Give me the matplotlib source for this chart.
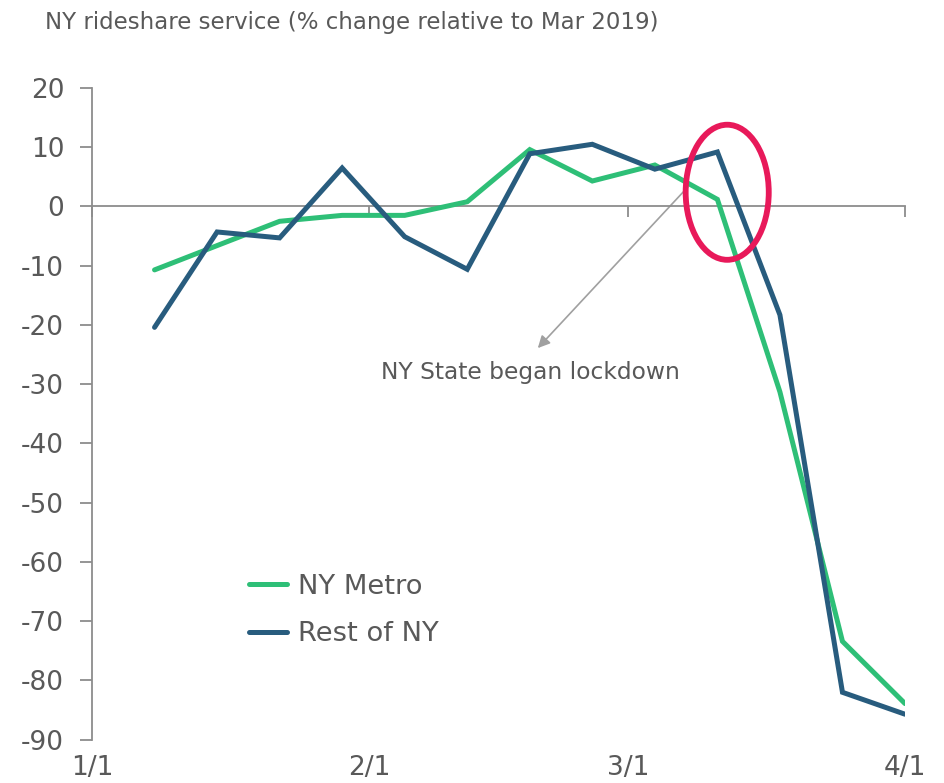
import numpy as np
import matplotlib
matplotlib.use("Agg")
import matplotlib.pyplot as plt
import matplotlib.dates as mdates
from matplotlib.patches import Ellipse
import matplotlib.transforms as mtransforms

# ---- data ----
dates = np.arange(np.datetime64("2020-01-08"), np.datetime64("2020-04-02"), np.timedelta64(7, "D"))
ny_metro = [-10.7, -6.6, -2.5, -1.5, -1.5, 0.8, 9.6, 4.3, 7.0, 1.2, -31.3, -73.4, -83.9]
rest_ny = [-20.4, -4.3, -5.3, 6.5, -5.1, -10.6, 8.9, 10.5, 6.3, 9.2, -18.3, -82.0, -85.7]
series_labels = ["NY Metro", "Rest of NY"]
xtick_dates = ["2020-01-01", "2020-02-01", "2020-03-01", "2020-04-01"]
xtick_labels = ["1/1", "2/1", "3/1", "4/1"]
yticks = [20, 10, 0, -10, -20, -30, -40, -50, -60, -70, -80, -90]
title = "NY rideshare service (% change relative to Mar 2019)"
note = "NY State began lockdown"

GREEN = "#2EBF77"
BLUE = "#285C7E"
RED = "#E8195A"
TXT = "#595959"
AX = "#8C8C8C"

plt.rcParams["font.family"] = ["DejaVu Sans"]

fig = plt.figure(figsize=(9.44, 7.83), dpi=100)
ax = fig.add_axes([92 / 944, 1 - 739.7 / 783, (905 - 92) / 944, (739.7 - 88) / 783])

x = dates.astype("datetime64[D]").astype(object)
ax.plot(x, ny_metro, color=GREEN, lw=3.6, solid_capstyle="round", solid_joinstyle="miter", label=series_labels[0], zorder=3)
ax.plot(x, rest_ny, color=BLUE, lw=3.6, solid_capstyle="round", solid_joinstyle="miter", label=series_labels[1], zorder=3)

xt = [mdates.date2num(np.datetime64(d)) for d in xtick_dates]
ax.set_xlim(xt[0], xt[-1])
ax.set_ylim(-90, 20)
ax.set_yticks(yticks)
ax.set_yticklabels([str(v) for v in yticks])

for s in ["top", "right"]:
    ax.spines[s].set_visible(False)
ax.spines["bottom"].set_position(("data", 0))
ax.spines["bottom"].set_color(AX)
ax.spines["left"].set_color(AX)
ax.spines["bottom"].set_linewidth(1.3)
ax.spines["left"].set_linewidth(1.3)
ax.set_xticks(xt)
ax.tick_params(axis="x", direction="out", length=8, width=1.3, color=AX, labelbottom=False)
ax.tick_params(axis="y", direction="out", length=9, width=1.3, color=AX, labelsize=19, labelcolor=TXT, pad=11)

trans = mtransforms.blended_transform_factory(ax.transData, ax.transAxes)
for xv, lab in zip(xt, xtick_labels):
    ax.text(xv, -0.043, lab, transform=trans, ha="center", va="center", fontsize=19, color=TXT, clip_on=False)

# title
fig.text(45 / 944, 1 - 22 / 783, title, ha="left", va="center", fontsize=16.5, color=TXT)

# ellipse highlight
d0 = xt[0]
ax.add_patch(Ellipse((d0 + 71.1, 2.4), 9.3, 22.8, fill=False, edgecolor=RED, lw=4.2, zorder=4))

# annotation arrow + text
ax.annotate("", xy=(d0 + 49.9, -23.9), xytext=(d0 + 66.7, 3.3),
            arrowprops=dict(arrowstyle="-|>", color="#A0A0A0", lw=1.2, mutation_scale=18,
                            shrinkA=0, shrinkB=0), zorder=2)
ax.text(d0 + 49.1, -28.1, note, ha="center", va="center", fontsize=16.8, color=TXT)

leg = ax.legend(loc="upper left", bbox_to_anchor=((249 - 92) / 813, (739.7 - 574) / 651.7),
                frameon=False, fontsize=19.7, handlelength=1.39, handletextpad=0.4,
                labelspacing=0.78, borderpad=0, borderaxespad=0)
for t in leg.get_texts():
    t.set_color(TXT)

fig.savefig("out.png", dpi=100)
